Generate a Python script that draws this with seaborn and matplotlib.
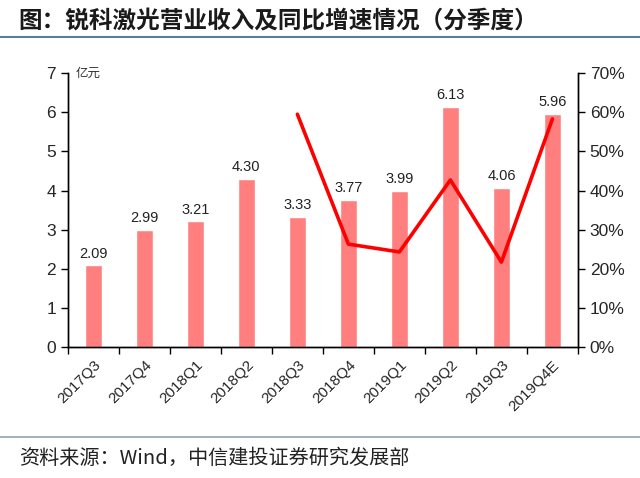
import matplotlib
matplotlib.use('Agg')
import matplotlib.pyplot as plt
import seaborn as sns
import numpy as np
import pandas as pd

sns.set_theme(style="white")
plt.rcParams['font.family'] = ['Noto Sans CJK SC', 'DejaVu Sans']

# data
quarters = ['2017Q3', '2017Q4', '2018Q1', '2018Q2', '2018Q3',
            '2018Q4', '2019Q1', '2019Q2', '2019Q3', '2019Q4E']
revenue = [2.09, 2.99, 3.21, 4.30, 3.33, 3.77, 3.99, 6.13, 4.06, 5.96]
growth = [np.nan, np.nan, np.nan, np.nan, 59.5, 26.3, 24.3, 42.7, 21.7, 58.3]

df = pd.DataFrame({'quarter': quarters, 'revenue': revenue, 'growth': growth})

fig = plt.figure(figsize=(6.4, 4.78), dpi=100)
ax = fig.add_axes([0.106, 0.274, 0.797, 0.573])

sns.barplot(data=df, x='quarter', y='revenue', color='#FF7F7F', saturation=1,
            width=0.34, ax=ax)
for i, v in enumerate(revenue):
    ax.text(i, v + 0.12, f'{v:.2f}', ha='center', va='bottom', fontsize=10.5,
            color='#222222', family=['Liberation Sans', 'DejaVu Sans'])

ax.set_ylim(0, 7)
ax.set_xlim(-0.5, len(quarters) - 0.5)
ax.set_yticks(range(0, 8))
ax.set_xlabel('')
ax.set_ylabel('')
ax.set_xticks(np.arange(-0.5, len(quarters), 1), minor=False)
ax.set_xticklabels([])
ax.set_xticks(range(len(quarters)), minor=True)
ax.set_xticklabels(quarters, minor=True, rotation=45, ha='right',
                   rotation_mode='anchor', fontsize=11,
                   family=['Liberation Sans', 'DejaVu Sans'])
ax.tick_params(axis='x', which='minor', length=0, pad=8)
ax.tick_params(axis='x', which='major', length=5, width=1, direction='out',
               color='black', bottom=True)
ax.tick_params(axis='y', length=5, width=1, direction='out', color='black',
               left=True, labelsize=12.5)
for t in ax.get_yticklabels():
    t.set_family(['Liberation Sans', 'DejaVu Sans'])

ax2 = ax.twinx()
sns.lineplot(x=np.arange(len(quarters)), y=growth, color='#FF0000',
             linewidth=2.6, ax=ax2)
ax2.set_ylim(0, 70)
ax2.set_yticks(range(0, 71, 10))
ax2.set_yticklabels([f'{v}%' for v in range(0, 71, 10)])
ax2.tick_params(axis='y', length=5, width=1, direction='out', color='black',
                right=True, labelsize=12.5)
for t in ax2.get_yticklabels():
    t.set_family(['Liberation Sans', 'DejaVu Sans'])

for a in (ax, ax2):
    a.spines['top'].set_visible(False)
    for s in ('left', 'right', 'bottom'):
        a.spines[s].set_color('black')
        a.spines[s].set_linewidth(1)
    a.grid(False)

ax.text(0.015, 1.0, '亿元', transform=ax.transAxes, fontsize=9,
        color='#333333', ha='left', va='center', style='italic')

# title and footer
fig.text(0.028, 0.955, '图：锐科激光营业收入及同比增速情况（分季度）',
         fontsize=17, fontweight='bold', color='#1a1a1a', va='center')
fig.add_artist(plt.Line2D([0, 1], [0.922, 0.922], color='#5B7F95',
                          linewidth=1.5))
fig.add_artist(plt.Line2D([0, 1], [0.086, 0.086], color='#8EA7B5',
                          linewidth=1.2))
fig.text(0.03, 0.04, '资料来源：Wind，中信建投证券研究发展部', fontsize=14.5,
         color='#222222', va='center', style='italic')

fig.savefig('out.png', dpi=100)
